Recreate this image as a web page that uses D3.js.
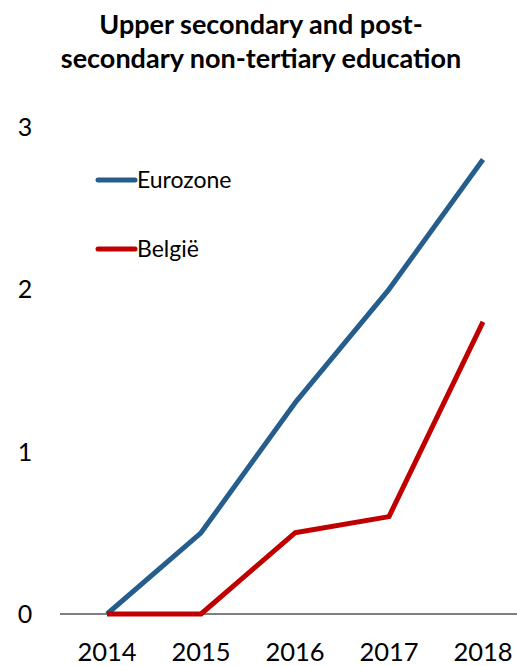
<!DOCTYPE html>
<html>
<head>
<meta charset="utf-8">
<script src="https://cdn.jsdelivr.net/npm/d3@7"></script>
<style>
  body { margin: 0; background: #fff; }
  svg { font-family: Lato, "Open Sans", sans-serif; }
</style>
</head>
<body>
<svg id="chart"></svg>
<script>
const years = ['2014', '2015', '2016', '2017', '2018'];
const eurozone = [0, 0.5, 1.3, 2.0, 2.8];
const belgie = [0, 0, 0.5, 0.6, 1.8];
const yTicks = [0, 1, 2, 3];
const titleLines = ['Upper secondary and post-', 'secondary non-tertiary education'];

const width = 517, height = 666;
const svg = d3.select('#chart').attr('width', width).attr('height', height);

const x = d3.scalePoint().domain(years).range([107, 483]);
const y = d3.scaleLinear().domain([0, 3]).range([614, 127]);

// title
svg.append('text')
  .attr('x', 260).attr('y', 34)
  .attr('text-anchor', 'middle')
  .attr('font-weight', 'bold').attr('font-size', 27)
  .selectAll('tspan').data(titleLines).enter().append('tspan')
  .attr('x', 261).attr('dy', (d, i) => i ? 34 : 0)
  .text(d => d);

// y labels
svg.selectAll('.ylab').data(yTicks).enter().append('text')
  .attr('class', 'ylab')
  .attr('x', 25).attr('y', d => y(d) + 9)
  .attr('text-anchor', 'middle').attr('font-size', 25)
  .text(d => d);

// baseline
svg.append('line')
  .attr('x1', 60).attr('x2', 517)
  .attr('y1', y(0)).attr('y2', y(0))
  .attr('stroke', '#000').attr('stroke-width', 1);

// x labels
svg.selectAll('.xlab').data(years).enter().append('text')
  .attr('class', 'xlab')
  .attr('x', d => x(d)).attr('y', 661)
  .attr('text-anchor', 'middle').attr('font-size', 25.5)
  .text(d => d);

const line = d3.line().x((d, i) => x(years[i])).y(d => y(d));

const series = [
  { name: 'Eurozone', values: eurozone, color: '#255E8C', ly: 180 },
  { name: 'België', values: belgie, color: '#C00000', ly: 249 }
];

series.forEach(s => {
  svg.append('path')
    .attr('d', line(s.values))
    .attr('fill', 'none')
    .attr('stroke', s.color).attr('stroke-width', 5)
    .attr('stroke-linejoin', 'round');

  svg.append('line')
    .attr('x1', 98).attr('x2', 135)
    .attr('y1', s.ly).attr('y2', s.ly)
    .attr('stroke', s.color).attr('stroke-width', 5)
    .attr('stroke-linecap', 'round');

  svg.append('text')
    .attr('x', 137).attr('y', s.ly + 8)
    .attr('font-size', 23)
    .text(s.name);
});
</script>
</body>
</html>
